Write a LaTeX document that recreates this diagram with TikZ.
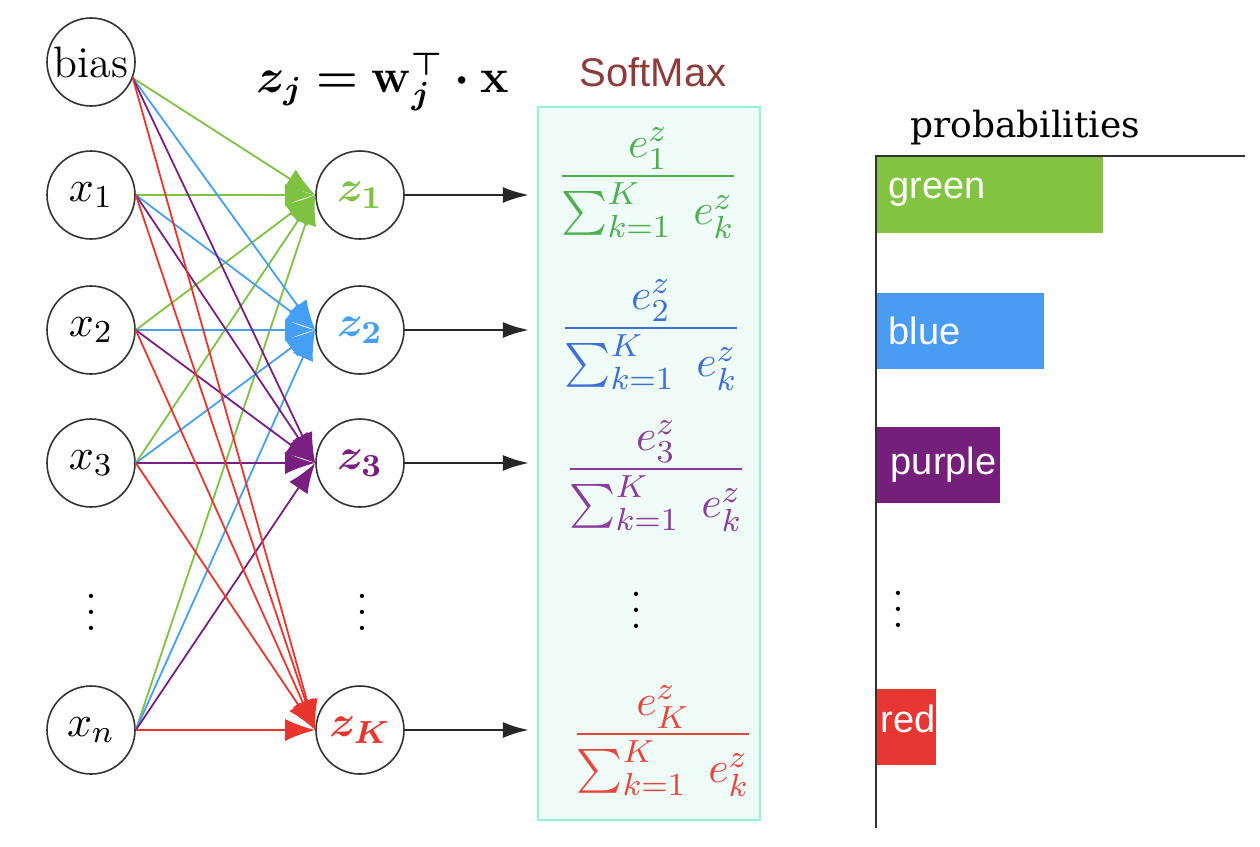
\documentclass[tikz,border=0pt]{standalone}
\usepackage{amsmath,bm}
\usepackage{fontspec}
\newfontfamily\labfont{Liberation Sans}
\newfontfamily\slabfont{DejaVu Serif}
\usetikzlibrary{arrows.meta}
\definecolor{cgreen}{HTML}{7DC242}
\definecolor{cblue}{HTML}{45A0F5}
\definecolor{cpurple}{HTML}{7A1F82}
\definecolor{cred}{HTML}{E8352D}
\definecolor{fgreen}{HTML}{4CAF50}
\definecolor{fblue}{HTML}{3D6FD8}
\definecolor{fpurple}{HTML}{8A3C9C}
\definecolor{fred}{HTML}{E8453C}
\definecolor{smtitle}{HTML}{8E3B3B}
\definecolor{smfill}{HTML}{F0FCF8}
\definecolor{smdraw}{HTML}{92F2D6}
\definecolor{bgreen}{HTML}{82C441}
\definecolor{bblue}{HTML}{4A9BF2}
\definecolor{bpurple}{HTML}{741F7A}
\definecolor{bred}{HTML}{E63732}
\begin{document}
\begin{tikzpicture}[x=0.25pt,y=-0.25pt,
 neuron/.style={circle,draw=black!80,line width=0.4pt,minimum size=22pt,inner sep=0pt,font=\fontsize{11}{13}\selectfont},
 conn/.style={line width=0.45pt,-{Latex[length=7.5pt,width=5.5pt]}},
 outarr/.style={line width=0.55pt,draw=black!85,-{Latex[length=6.5pt,width=4pt]},shorten >=2pt},
 fracnode/.style={font=\fontsize{11}{13.5}\selectfont},
 barlab/.style={text=white,font=\labfont\fontsize{9.5}{11}\selectfont,anchor=west,inner sep=0pt},
 barbox/.style={anchor=west,minimum height=19pt,inner sep=0pt,draw=none}
]
\useasboundingbox (0,0) rectangle (1260,846);

% input layer
\node[neuron] (b)  at (91,62)  {bias};
\node[neuron] (x1) at (91,195) {$x_1$};
\node[neuron] (x2) at (91,330) {$x_2$};
\node[neuron] (x3) at (91,463) {$x_3$};
\node[neuron] (xn) at (91,730) {$x_n$};
\node[font=\fontsize{11}{13}\selectfont] (d1) at (91,600) {$\vdots$};

% output layer
\node[neuron] (z1) at (360,195) {\color{cgreen}$\bm{z_1}$};
\node[neuron] (z2) at (360,330) {\color{cblue}$\bm{z_2}$};
\node[neuron] (z3) at (360,463) {\color{cpurple}$\bm{z_3}$};
\node[neuron] (zK) at (360,730) {\color{cred}$\bm{z_K}$};
\node[font=\fontsize{11}{13}\selectfont] (d2) at (362,600) {$\vdots$};

% connections
\foreach \t/\c in {z1/cgreen,z2/cblue,z3/cpurple,zK/cred}{
  \foreach \s in {b.-21,x1.east,x2.east,x3.east,xn.east}{
    \draw[conn,\c] (\s) -- (\t.west);
  }
}

% equation
\node (eq) at (383,82) {\fontsize{12}{14}\selectfont$\bm{z_j = \mathbf{w}_j^{\top}\cdot \mathbf{x}}$};

% softmax box
\node[draw=smdraw,fill=smfill,line width=0.6pt,minimum width=55.5pt,minimum height=178.25pt,inner sep=0pt] (sm) at (649,463.5) {};
\node[text=smtitle,font=\labfont\fontsize{10}{12}\selectfont] (smt) at (653,72) {SoftMax};

\foreach \z in {z1,z2,z3,zK}{
  \draw[outarr] (\z.east) -- (sm.west |- \z);
}

\node[fracnode,text=fgreen]  (f1) at (648,183) {$\displaystyle\frac{e^z_1}{\sum_{k=1}^{K}\ e^z_k}$};
\node[fracnode,text=fblue]   (f2) at (651,335) {$\displaystyle\frac{e^z_2}{\sum_{k=1}^{K}\ e^z_k}$};
\node[fracnode,text=fpurple] (f3) at (656,476) {$\displaystyle\frac{e^z_3}{\sum_{k=1}^{K}\ e^z_k}$};
\node[fracnode,text=fred]    (f4) at (663,741) {$\displaystyle\frac{e^z_K}{\sum_{k=1}^{K}\ e^z_k}$};
\node[font=\fontsize{11}{13}\selectfont] (d3) at (636,598) {$\vdots$};

% bar chart
\node[barbox,fill=bgreen,minimum width=56.5pt]  (bg) at (876,194.5) {};
\node[barbox,fill=bblue,minimum width=41.75pt]  (bb) at (876,330.5) {};
\node[barbox,fill=bpurple,minimum width=30.75pt] (bp) at (876,464.5) {};
\node[barbox,fill=bred,minimum width=14.75pt]   (br) at (876,726.5) {};

\node[barlab] (lg) at ([xshift=3pt,yshift=0.5pt]bg.west) {green};
\node[barlab] (lb) at ([xshift=3pt]bb.west) {blue};
\node[barlab] (lp) at ([xshift=3.5pt]bp.west) {purple};
\node[barlab] (lr) at ([xshift=1pt,yshift=2pt]br.west) {red};
\node[font=\fontsize{11}{13}\selectfont] (d4) at (898,597) {$\vdots$};

\coordinate (ax0) at (876,156);
\coordinate (axb) at (876,828);
\coordinate (axr) at (1245,156);
\draw[line width=0.55pt,black!80] (axb) -- (ax0) -- (axr);
\node[font=\slabfont\fontsize{9}{11}\selectfont] (pt) at (1025,128) {probabilities};
\end{tikzpicture}
\end{document}
